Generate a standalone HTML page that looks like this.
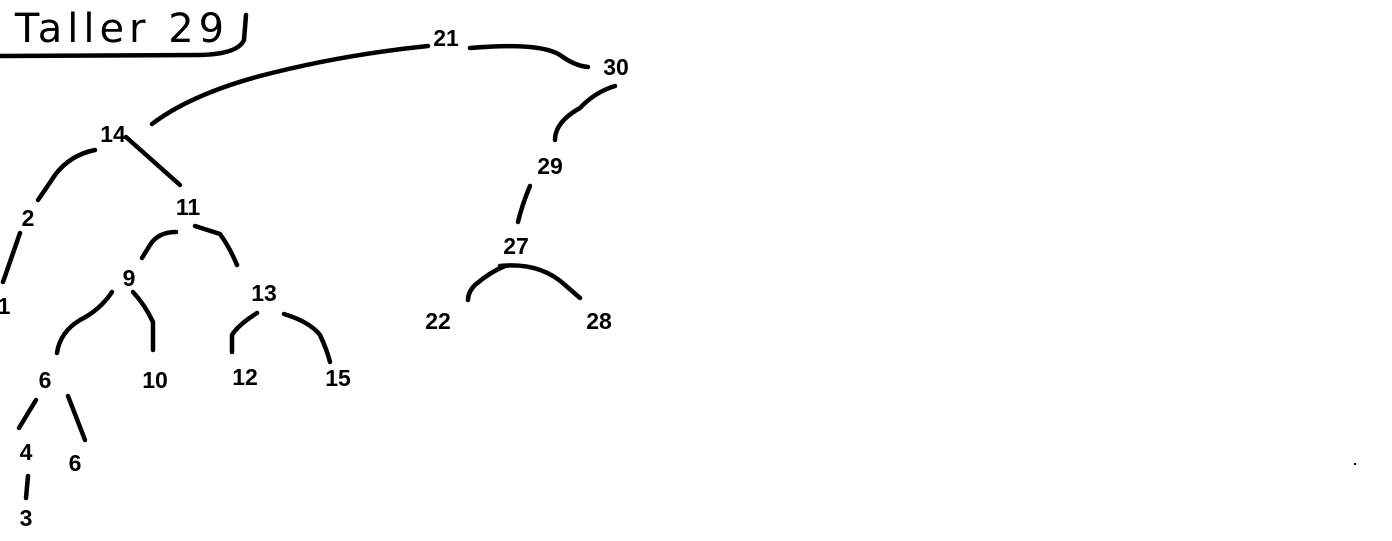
<!DOCTYPE html>
<html><head><meta charset="utf-8"><style>
html,body{margin:0;padding:0;background:#fff;}
svg{display:block;}
text{font-family:"Liberation Sans Narrow","Liberation Sans","DejaVu Sans",sans-serif;font-weight:bold;font-size:23px;fill:#000;text-anchor:middle;}
path{fill:none;stroke:#000;stroke-width:4.5;stroke-linecap:round;stroke-linejoin:round;}
</style></head><body>
<svg width="1392" height="541" viewBox="0 0 1392 541">
<g>
<text x="122" y="42" style="font-family:'DejaVu Sans',sans-serif;font-weight:normal;font-size:40px;letter-spacing:5px">Taller 29</text>
<path d="M0 56 L200 55 Q238 54 244 40 L246 15"/>
</g>
<g>
<path d="M152 124 Q190 95 260 76 Q340 55 428 46"/>
<path d="M470 48 Q540 42 560 55 Q575 66 588 67"/>
<path d="M615 86 Q595 92 580 108 Q555 122 555 140"/>
<path d="M530 186 Q522 205 518 222"/>
<path d="M505 266 Q490 272 475 285 Q468 292 468 300"/>
<path d="M500 266 Q540 262 565 285 L580 298"/>
<path d="M95 150 Q70 155 55 175 Q45 190 38 200"/>
<path d="M126 137 L180 185"/>
<path d="M20 233 L3 282"/>
<path d="M176 232 Q158 232 150 245 L142 258"/>
<path d="M195 226 L220 234 Q230 248 237 265"/>
<path d="M112 292 Q100 310 80 320 Q60 332 57 353"/>
<path d="M133 292 Q145 305 153 322 L153 350"/>
<path d="M257 313 Q238 325 232 335 L232 352"/>
<path d="M284 314 Q310 322 320 335 Q327 350 330 362"/>
<path d="M36 400 L19 428"/>
<path d="M68 396 L85 440"/>
<path d="M28 476 L26 498"/>
</g>
<g>
<text x="446" y="46">21</text>
<text x="616" y="75">30</text>
<text x="113" y="142">14</text>
<text x="550" y="174">29</text>
<text x="28" y="226">2</text>
<text x="188" y="215">11</text>
<text x="516" y="254">27</text>
<text x="129" y="286">9</text>
<text x="264" y="301">13</text>
<text x="4" y="314">1</text>
<text x="438" y="329">22</text>
<text x="599" y="329">28</text>
<text x="45" y="388">6</text>
<text x="155" y="388">10</text>
<text x="245" y="385">12</text>
<text x="338" y="386">15</text>
<text x="26" y="460">4</text>
<text x="75" y="471">6</text>
<text x="26" y="526">3</text>
</g>
<rect x="1354" y="463" width="2" height="2" fill="#000"/>
</svg>
</body></html>
